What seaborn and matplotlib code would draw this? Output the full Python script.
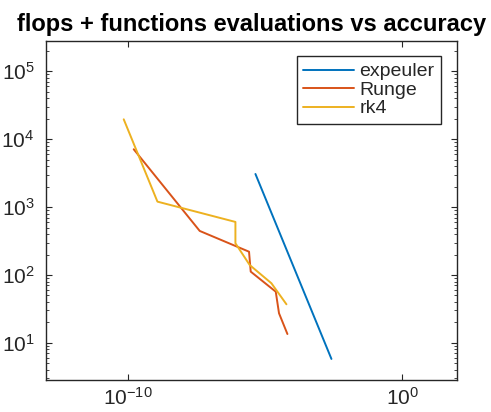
import numpy as np
import pandas as pd
import matplotlib
matplotlib.use("Agg")
import matplotlib.pyplot as plt
import seaborn as sns
from matplotlib.ticker import LogLocator, NullLocator, FixedLocator

# --- data ---
expeuler_err = [4.4e-6, 2.59e-3]
expeuler_flops = [3070, 5.8]

runge_err = [1.61e-10, 4.1e-8, 2.57e-6, 2.96e-6, 2.42e-5, 3.18e-5, 6.44e-5]
runge_flops = [7100, 445, 220, 112, 56.7, 27.3, 13.5]

rk4_err = [6.97e-11, 1.18e-9, 8.2e-7, 8.2e-7, 2.72e-6, 1.68e-5, 5.93e-5]
rk4_flops = [19600, 1202, 604, 293, 140, 75.5, 37]

series_names = ["expeuler", "Runge", "rk4"]
colors = ["#0072BD", "#D95319", "#EDB120"]
x_ticks = [1e-10, 1e0]

rows = []
for name, xs, ys in zip(series_names,
                        [expeuler_err, runge_err, rk4_err],
                        [expeuler_flops, runge_flops, rk4_flops]):
    for i, (x, y) in enumerate(zip(xs, ys)):
        rows.append({"series": name, "order": i, "err": x, "flops": y})
df = pd.DataFrame(rows)

sns.set_theme(style="white")
plt.rcParams["font.family"] = ["Liberation Sans", "DejaVu Sans"]
plt.rcParams["mathtext.fontset"] = "custom"
plt.rcParams["mathtext.rm"] = "Liberation Sans"

fig = plt.figure(figsize=(4.91, 4.12), dpi=100)
ax = fig.add_axes([0.0931, 0.0777, 0.9301 - 0.0931, 0.9005 - 0.0777])

sns.lineplot(data=df, x="err", y="flops", hue="series", hue_order=series_names,
             palette=colors, sort=False, estimator=None, units="series",
             linewidth=1.4, ax=ax)

ax.set_xscale("log")
ax.set_yscale("log")
ax.set_xlim(1e-13, 9.5e1)
ax.set_ylim(2.84, 2.79e5)
ax.xaxis.set_major_locator(FixedLocator(x_ticks))
ax.xaxis.set_minor_locator(NullLocator())
ax.yaxis.set_major_locator(LogLocator(base=10, numticks=20))
ax.yaxis.set_minor_locator(LogLocator(base=10, subs=np.arange(2, 10), numticks=40))
ax.set_xlabel("")
ax.set_ylabel("")

dark = "#262626"
for s in ax.spines.values():
    s.set_color(dark)
    s.set_linewidth(1.0)
    s.set_visible(True)
ax.tick_params(which="both", direction="in", top=True, right=True,
               bottom=True, left=True,
               color=dark, labelcolor=dark, labelsize=15)
ax.tick_params(which="major", length=4.5, width=0.8)
ax.tick_params(which="minor", length=2.5, width=0.6)
ax.tick_params(axis="x", pad=5)
ax.tick_params(axis="y", pad=8)

ax.set_title("flops + functions evaluations vs accuracy",
             fontsize=17, fontweight="bold", color="black", pad=7)

leg = ax.legend(loc="upper right", bbox_to_anchor=(0.962, 0.956), fontsize=14,
                frameon=True, fancybox=False, handlelength=2.6, handletextpad=0.27,
                labelspacing=0.05, borderpad=0.35, borderaxespad=0)
leg.get_frame().set_edgecolor(dark)
leg.get_frame().set_linewidth(1.0)
leg.get_frame().set_alpha(1)

fig.savefig("out.png", dpi=100)
